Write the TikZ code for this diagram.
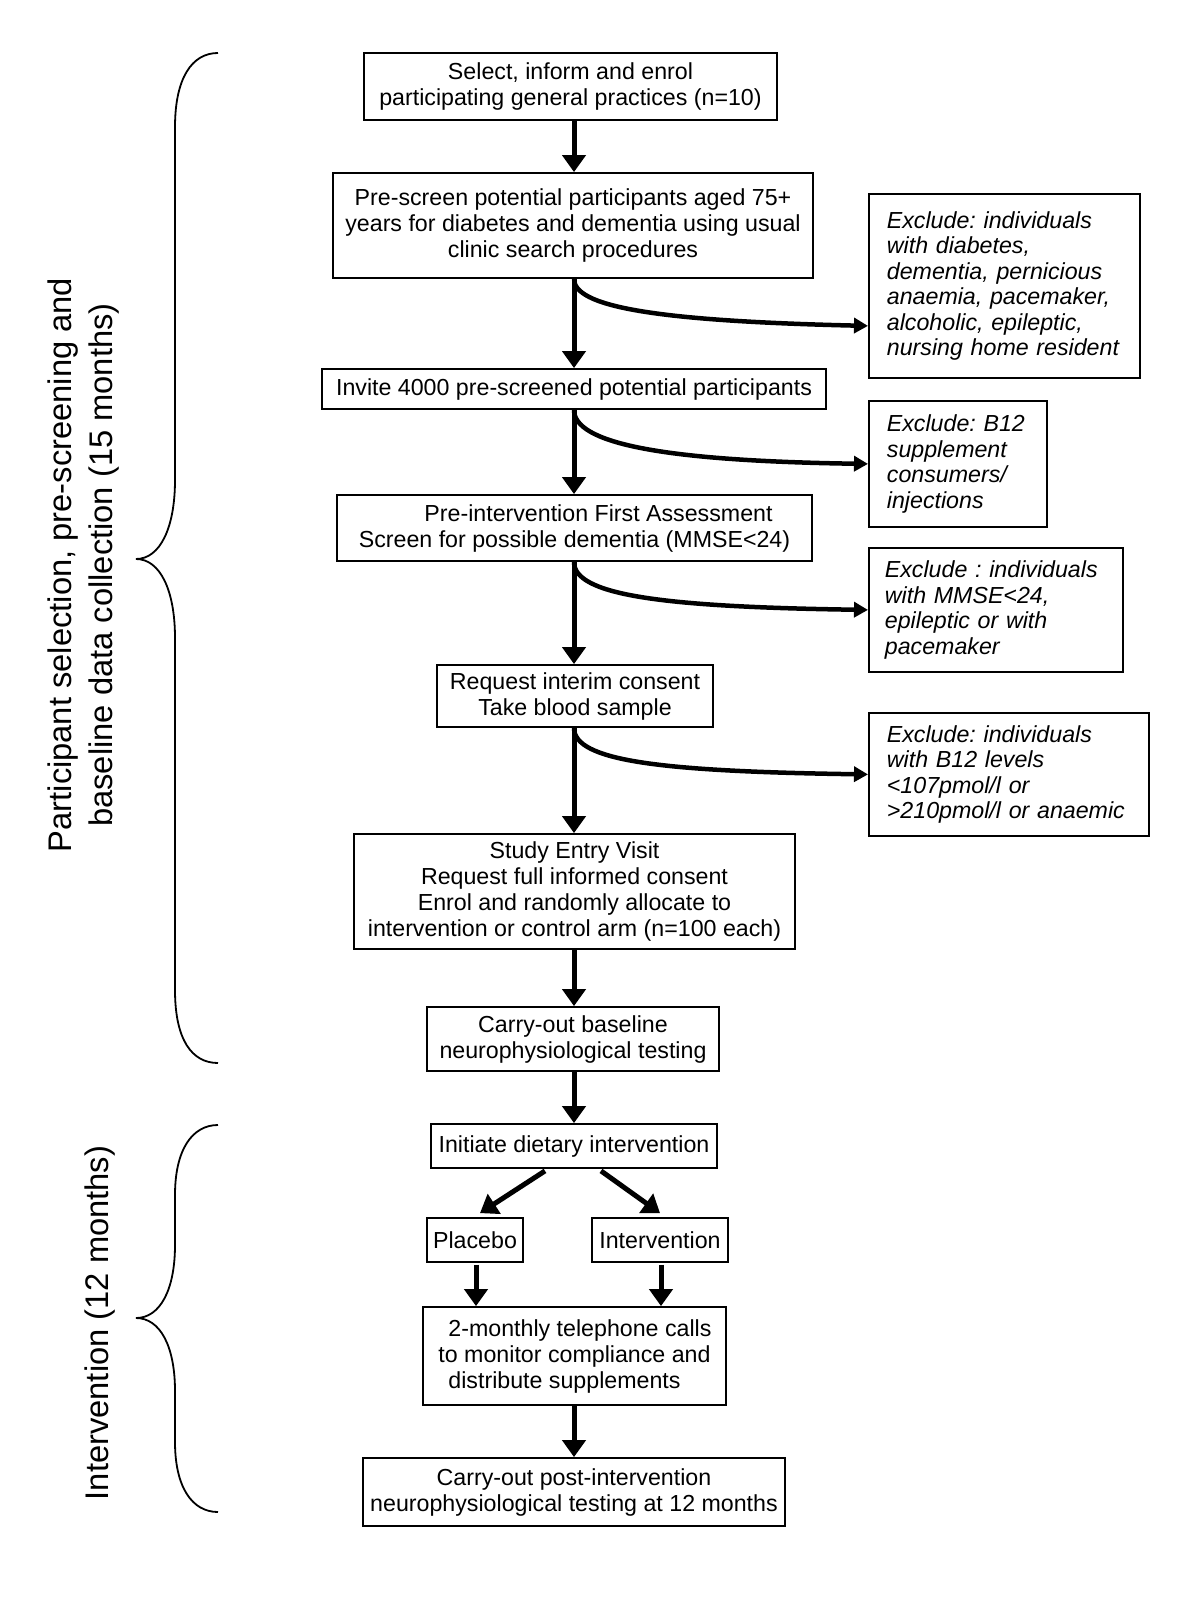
\documentclass[tikz,border=0pt]{standalone}
\usepackage{fontspec}
\setmainfont{Liberation Sans}
\usepackage{tikz}
\usetikzlibrary{arrows.meta,calc}
\frenchspacing

\tikzset{
  box/.style={draw, line width=1.8, align=center, inner sep=0pt, font=\fontsize{23.2}{26}\selectfont},
  excl/.style={draw, line width=1.8, anchor=north west, align=left, inner xsep=18pt, inner ysep=0pt, font=\fontsize{23.2}{25.5}\selectfont\itshape},
  flow/.style={line width=5, -{Triangle[length=17pt,width=23pt]}},
  side/.style={line width=4.5, -{Triangle[length=14pt,width=15pt]}},
  brace/.style={line width=1.8},
  phase/.style={rotate=90, align=center, font=\fontsize{32.7}{41}\selectfont}
}

\begin{document}
\begin{tikzpicture}[x=1pt,y=1pt,yscale=-1,xscale=1]
\useasboundingbox (0,0) rectangle (1200,1608);

% Main steps
\node [box, minimum width=413, minimum height=67] (b1) at (570.5,86.5) {Select, inform and enrol\\participating general practices (n=10)};
\node [box, minimum width=480, minimum height=105] (b2) at (573,225.5) {Pre-screen potential participants aged 75+\\years for diabetes and dementia using usual\\clinic search procedures};
\node [box, minimum width=504, minimum height=40] (b3) at (574,389) {Invite 4000 pre-screened potential participants};
\node [box, minimum width=475, minimum height=66] (b4) at (574.5,528) {\hspace*{48pt}Pre-intervention First Assessment\\Screen for possible dementia (MMSE<24)};
\node [box, minimum width=276, minimum height=62] (b5) at (575,696) {Request interim consent\\Take blood sample};
\node [box, minimum width=441, minimum height=115] (b6) at (574.5,891.5) {Study Entry Visit\\Request full informed consent\\Enrol and randomly allocate to\\intervention or control arm (n=100 each)};
\node [box, minimum width=292, minimum height=64] (b7) at (573,1039) {Carry-out baseline\\neurophysiological testing};
\node [box, minimum width=286, minimum height=44] (b8) at (574,1146) {Initiate dietary intervention};
\node [box, minimum width=96, minimum height=44] (plac) at (475,1240) {Placebo};
\node [box, minimum width=136, minimum height=44] (intv) at (660,1240) {Intervention};
\node [box, minimum width=303, minimum height=98] (b9) at (574.5,1356) {\hspace*{11pt}2-monthly telephone calls\\to monitor compliance and\hspace*{11pt}\\distribute supplements\hspace*{20pt}};
\node [box, minimum width=422, minimum height=68] (b10) at (574,1492) {Carry-out post-intervention\\neurophysiological testing at 12 months};

% Exclusions
\node [excl, text width=235, minimum height=184] (x1) at (868,193) {Exclude: individuals\\with diabetes,\\dementia, pernicious\\anaemia, pacemaker,\\alcoholic, epileptic,\\nursing home resident};
\node [excl, text width=142, minimum height=126] (x2) at (868,400) {Exclude: B12\\supplement\\consumers/\\injections};
\node [excl, inner xsep=16pt, text width=222, minimum height=124] (x3) at (868,547) {Exclude : individuals\\with MMSE<24,\\epileptic or with\\pacemaker};
\node [excl, text width=244, minimum height=123] (x4) at (868,712) {Exclude: individuals\\with B12 levels\\<107pmol/l or\\>210pmol/l or anaemic};

\coordinate (stem) at (574,0);

%Straight Lines
\draw [flow] (b1.south -| stem) -- (b2.north -| stem);
\draw [flow] (b2.south -| stem) -- (b3.north -| stem);
\draw [flow] (b3.south -| stem) -- (b4.north -| stem);
\draw [flow] (b4.south -| stem) -- (b5.north -| stem);
\draw [flow] (b5.south -| stem) -- (b6.north -| stem);
\draw [flow] (b6.south -| stem) -- (b7.north -| stem);
\draw [flow] (b7.south -| stem) -- (b8.north -| stem);
\draw [flow] ($(b8.south)+(-29,2)$) -- ($(plac.north)+(5,-4)$);
\draw [flow] ($(b8.south)+(27,2)$) -- ($(intv.north)+(0,-4)$);
\draw [flow] ($(plac.south)+(1,2)$) -- ($(plac.south |- b9.north)+(1,0)$);
\draw [flow] ($(intv.south)+(1,2)$) -- ($(intv.south |- b9.north)+(1,0)$);
\draw [flow] (b9.south -| stem) -- (b10.north -| stem);

%Curves
\draw [side] (b2.south -| stem) .. controls ($(b2.south -| stem)+(0,27)$) and ($(x1.west)+(-218,35)$) .. ($(x1.west)+(0,40)$);
\draw [side] (b3.south -| stem) .. controls ($(b3.south -| stem)+(0,33)$) and ($(x2.west)+(-208,-3)$) .. (x2.west);
\draw [side] (b4.south -| stem) .. controls ($(b4.south -| stem)+(0,33)$) and ($(x3.west)+(-208,-3)$) .. (x3.west);
\draw [side] (b5.south -| stem) .. controls ($(b5.south -| stem)+(0,33)$) and ($(x4.west)+(-208,-3)$) .. (x4.west);

%Braces
\draw [brace] (218,53) .. controls (192,53) and (175,78) .. (175,127) -- (175,480) .. controls (175,528) and (160,559) .. (136,559) .. controls (160,559) and (175,590) .. (175,638) -- (175,990) .. controls (175,1040) and (192,1063) .. (218,1063);
\draw [brace] (218,1125) .. controls (192,1125) and (175,1150) .. (175,1195) -- (175,1245) .. controls (175,1290) and (160,1318) .. (136,1318) .. controls (160,1318) and (175,1346) .. (175,1391) -- (175,1442) .. controls (175,1487) and (192,1512) .. (218,1512);

% Text Node
\node [phase] (p1) at (84,565) {Participant selection, pre-screening and\\baseline data collection (15 months)};
\node [phase] (p2) at (100,1323) {Intervention (12 months)};

\end{tikzpicture}
\end{document}
